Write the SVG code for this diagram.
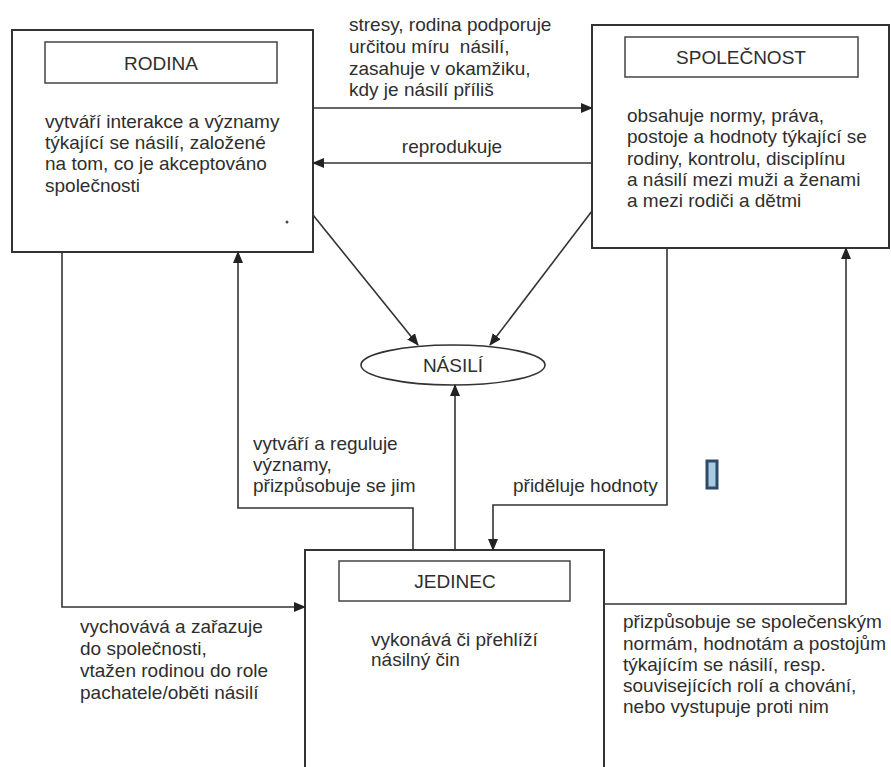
<svg xmlns="http://www.w3.org/2000/svg" width="891" height="767" viewBox="0 0 891 767">
<style>
text{font-family:"Liberation Sans",Arial,sans-serif;font-size:19px;fill:#2e2e2e}
.c{text-anchor:middle}
.box{fill:#fff;stroke:#333;stroke-width:2}
.tb{fill:#fff;stroke:#444;stroke-width:1.5}
.ln{fill:none;stroke:#333;stroke-width:1.6}
.ar{marker-end:url(#ah)}
</style>
<defs>
<marker id="ah" markerWidth="12" markerHeight="10" refX="11" refY="5" orient="auto" markerUnits="userSpaceOnUse">
<path d="M0,0 L12,5 L0,10 z" fill="#222"/>
</marker>
</defs>
<rect width="891" height="767" fill="#fff"/>

<g id="rodina">
<rect class="box" x="12" y="30" width="301" height="222"/>
<rect class="tb" x="45" y="42" width="232" height="41"/>
<text class="c" x="161" y="70">RODINA</text>
<text x="45" y="128">vytváří interakce a významy</text>
<text x="45" y="149">týkající se násilí, založené</text>
<text x="45" y="170">na tom, co je akceptováno</text>
<text x="45" y="192">společnosti</text>
<circle cx="287" cy="222" r="1.5" fill="#3a4a66"/>
</g>

<g id="spolecnost">
<rect class="box" x="592" y="25" width="297" height="223"/>
<rect class="tb" x="625" y="37" width="233" height="40"/>
<text class="c" x="741" y="64">SPOLEČNOST</text>
<text x="627" y="122">obsahuje normy, práva,</text>
<text x="627" y="143">postoje a hodnoty týkající se</text>
<text x="627" y="165">rodiny, kontrolu, disciplínu</text>
<text x="627" y="186">a násilí mezi muži a ženami</text>
<text x="627" y="207">a mezi rodiči a dětmi</text>
</g>

<g id="nasili">
<ellipse cx="453" cy="365" rx="92" ry="20" fill="#fff" stroke="#333" stroke-width="1.6"/>
<text class="c" x="453" y="372">NÁSILÍ</text>
</g>

<g id="jedinec">
<rect class="box" x="305" y="550" width="299" height="240"/>
<rect class="tb" x="339" y="561" width="231" height="40"/>
<text class="c" x="455" y="588">JEDINEC</text>
<text x="371" y="646">vykonává či přehlíží</text>
<text x="371" y="666">násilný čin</text>
</g>

<g id="connectors">
<line class="ln ar" x1="313" y1="108" x2="592" y2="108"/>
<line class="ln ar" x1="592" y1="163" x2="313" y2="163"/>
<line class="ln ar" x1="313" y1="215" x2="418" y2="345"/>
<line class="ln ar" x1="592" y1="211" x2="490" y2="345"/>
<line class="ln ar" x1="455" y1="550" x2="455" y2="385"/>
<polyline class="ln ar" points="413,550 413,508 238,508 238,252"/>
<polyline class="ln ar" points="667,248 667,505 493,505 493,550"/>
<polyline class="ln ar" points="62,252 62,607 305,607"/>
<polyline class="ln ar" points="604,604 846,604 846,248"/>
</g>

<g id="labels">
<text x="349" y="31">stresy, rodina podporuje</text>
<text x="349" y="53" xml:space="preserve">určitou míru  násilí,</text>
<text x="349" y="75">zasahuje v okamžiku,</text>
<text x="349" y="96">kdy je násilí příliš</text>
<text class="c" x="452" y="153">reprodukuje</text>
<text x="253" y="450">vytváří a reguluje</text>
<text x="253" y="471">významy,</text>
<text x="253" y="492">přizpůsobuje se jim</text>
<text x="513" y="492">přiděluje hodnoty</text>
<text x="80" y="633">vychovává a zařazuje</text>
<text x="80" y="655">do společnosti,</text>
<text x="80" y="677">vtažen rodinou do role</text>
<text x="80" y="699">pachatele/oběti násilí</text>
<text x="623" y="628">přizpůsobuje se společenským</text>
<text x="623" y="650">normám, hodnotám a postojům</text>
<text x="623" y="671">týkajícím se násilí, resp.</text>
<text x="623" y="692">souvisejících rolí a chování,</text>
<text x="623" y="713">nebo vystupuje proti nim</text>
</g>

<rect x="707" y="461" width="10" height="27" fill="#a8cbe4" stroke="#2e4a66" stroke-width="3"/>
</svg>
